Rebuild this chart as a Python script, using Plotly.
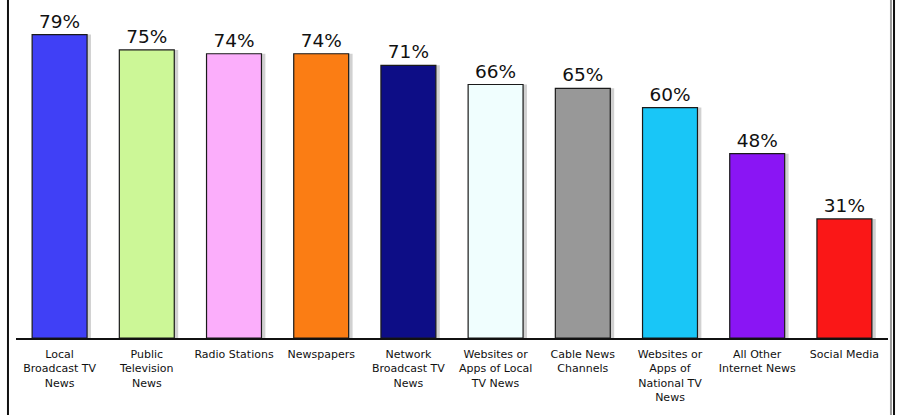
import plotly.graph_objects as go

# Share of respondents trusting each news source
categories = [
    "Local<br>Broadcast TV<br>News",
    "Public<br>Television<br>News",
    "Radio Stations",
    "Newspapers",
    "Network<br>Broadcast TV<br>News",
    "Websites or<br>Apps of Local<br>TV News",
    "Cable News<br>Channels",
    "Websites or<br>Apps of<br>National TV<br>News",
    "All Other<br>Internet News",
    "Social Media",
]
values = [79, 75, 74, 74, 71, 66, 65, 60, 48, 31]
colors = [
    "#4040F6", "#CCF797", "#FBAEFB", "#FB7D14", "#0D0D86",
    "#F0FEFE", "#989898", "#19C6F7", "#8A15F4", "#FA1717",
]

FONT = "DejaVu Sans"
BAR_W = 0.63

fig = go.Figure()

# Soft drop shadow behind each bar
fig.add_trace(go.Bar(
    x=categories, y=values,
    width=BAR_W, offset=-BAR_W / 2 + 0.045,
    marker=dict(color="rgba(0,0,0,0.18)", line=dict(width=0)),
    hoverinfo="skip", showlegend=False,
))

# Main bars with value labels
fig.add_trace(go.Bar(
    x=categories, y=values,
    width=BAR_W, offset=-BAR_W / 2,
    marker=dict(color=colors, line=dict(color="#1a1a1a", width=1.2)),
    text=[f"{v}%" for v in values],
    textposition="outside",
    textfont=dict(family=FONT, size=18.5, color="#111111"),
    cliponaxis=False,
    showlegend=False,
))

fig.update_layout(
    width=898, height=415,
    margin=dict(l=16, r=10, t=0, b=77),
    paper_bgcolor="white", plot_bgcolor="white",
    barmode="overlay",
    font=dict(family=FONT, size=11, color="#111111"),
    xaxis=dict(
        showline=True, linecolor="#111111", linewidth=1.5,
        showgrid=False, ticks="", tickangle=0,
        ticklabelstandoff=5,
        tickfont=dict(family=FONT, size=11, color="#111111"),
        range=[-0.5, 9.5],
    ),
    yaxis=dict(
        range=[0, 88], visible=False, showgrid=False,
    ),
    shapes=[
        dict(type="line", xref="paper", yref="paper",
             x0=-0.0092, x1=-0.0092, y0=-0.3, y1=1.1,
             line=dict(color="#111111", width=2)),
        dict(type="line", xref="paper", yref="paper",
             x0=1.0034, x1=1.0034, y0=-0.3, y1=1.1,
             line=dict(color="#9a9a9a", width=2)),
        dict(type="line", xref="paper", yref="paper",
             x0=1.0069, x1=1.0069, y0=-0.3, y1=1.1,
             line=dict(color="#111111", width=2)),
    ],
)

fig.write_html("out.html")
